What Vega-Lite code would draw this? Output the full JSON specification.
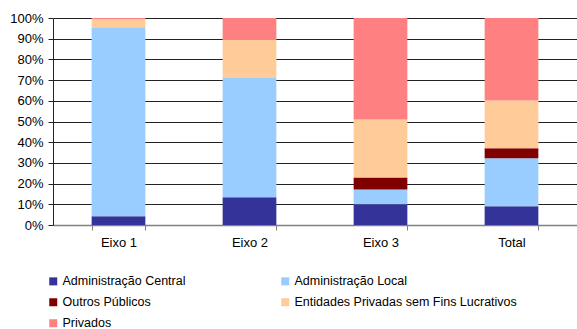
{
  "$schema": "https://vega.github.io/schema/vega-lite/v6.json",
  "autosize": "none",
  "width": 524,
  "height": 207,
  "padding": {"left": 53, "top": 18, "right": 0, "bottom": 104},
  "background": "white",
  "config": {
    "view": {"stroke": null},
    "font": "Liberation Sans",
    "axis": {"labelFont": "Liberation Sans", "labelFontSize": 13, "labelColor": "#000"},
    "legend": {"labelFont": "Liberation Sans", "labelFontSize": 12.5, "labelColor": "#000"}
  },
  "data": {
    "values": [
      {"eixo": "Eixo 1", "tipo": "Administração Central", "ordem": 1, "pct": 4.2},
      {"eixo": "Eixo 1", "tipo": "Administração Local", "ordem": 2, "pct": 91.3},
      {"eixo": "Eixo 1", "tipo": "Outros Públicos", "ordem": 3, "pct": 0},
      {"eixo": "Eixo 1", "tipo": "Entidades Privadas sem Fins Lucrativos", "ordem": 4, "pct": 4.0},
      {"eixo": "Eixo 1", "tipo": "Privados", "ordem": 5, "pct": 0.5},
      {"eixo": "Eixo 2", "tipo": "Administração Central", "ordem": 1, "pct": 13.4},
      {"eixo": "Eixo 2", "tipo": "Administração Local", "ordem": 2, "pct": 57.6},
      {"eixo": "Eixo 2", "tipo": "Outros Públicos", "ordem": 3, "pct": 0},
      {"eixo": "Eixo 2", "tipo": "Entidades Privadas sem Fins Lucrativos", "ordem": 4, "pct": 18.7},
      {"eixo": "Eixo 2", "tipo": "Privados", "ordem": 5, "pct": 10.3},
      {"eixo": "Eixo 3", "tipo": "Administração Central", "ordem": 1, "pct": 10.0},
      {"eixo": "Eixo 3", "tipo": "Administração Local", "ordem": 2, "pct": 7.2},
      {"eixo": "Eixo 3", "tipo": "Outros Públicos", "ordem": 3, "pct": 5.8},
      {"eixo": "Eixo 3", "tipo": "Entidades Privadas sem Fins Lucrativos", "ordem": 4, "pct": 28.0},
      {"eixo": "Eixo 3", "tipo": "Privados", "ordem": 5, "pct": 49.0},
      {"eixo": "Total", "tipo": "Administração Central", "ordem": 1, "pct": 9.0},
      {"eixo": "Total", "tipo": "Administração Local", "ordem": 2, "pct": 23.2},
      {"eixo": "Total", "tipo": "Outros Públicos", "ordem": 3, "pct": 4.9},
      {"eixo": "Total", "tipo": "Entidades Privadas sem Fins Lucrativos", "ordem": 4, "pct": 23.1},
      {"eixo": "Total", "tipo": "Privados", "ordem": 5, "pct": 39.8}
    ]
  },
  "mark": {"type": "bar"},
  "encoding": {
    "x": {
      "field": "eixo",
      "type": "nominal",
      "sort": null,
      "title": null,
      "scale": {"paddingInner": 0.59, "paddingOuter": 0.295},
      "axis": {
        "labelAngle": 0,
        "tickBand": "extent",
        "tickSize": 5,
        "tickColor": "#808080",
        "domainColor": "#808080",
        "domainWidth": 1.5,
        "labelPadding": 6,
        "grid": false
      }
    },
    "y": {
      "field": "pct",
      "type": "quantitative",
      "stack": "zero",
      "title": null,
      "scale": {"domain": [0, 100], "nice": false},
      "axis": {
        "values": [0, 10, 20, 30, 40, 50, 60, 70, 80, 90, 100],
        "labelExpr": "datum.value + '%'",
        "grid": true,
        "gridColor": "#222",
        "gridWidth": 1,
        "tickSize": 5,
        "tickColor": "#222",
        "domainColor": "#222",
        "labelPadding": 5
      }
    },
    "color": {
      "field": "tipo",
      "type": "nominal",
      "scale": {
        "domain": ["Administração Central", "Outros Públicos", "Privados", "Administração Local", "Entidades Privadas sem Fins Lucrativos"],
        "range": ["#333399", "#800000", "#FF8080", "#99CCFF", "#FFCC99"]
      },
      "legend": {
        "title": null,
        "orient": "none",
        "legendX": -6,
        "legendY": 257,
        "columns": 2,
        "columnPadding": 93,
        "rowPadding": 8,
        "symbolType": "square",
        "symbolSize": 64,
        "symbolStrokeWidth": 0,
        "labelOffset": 3,
        "labelLimit": 0
      }
    },
    "order": {"field": "ordem", "type": "quantitative", "sort": "ascending"}
  }
}
